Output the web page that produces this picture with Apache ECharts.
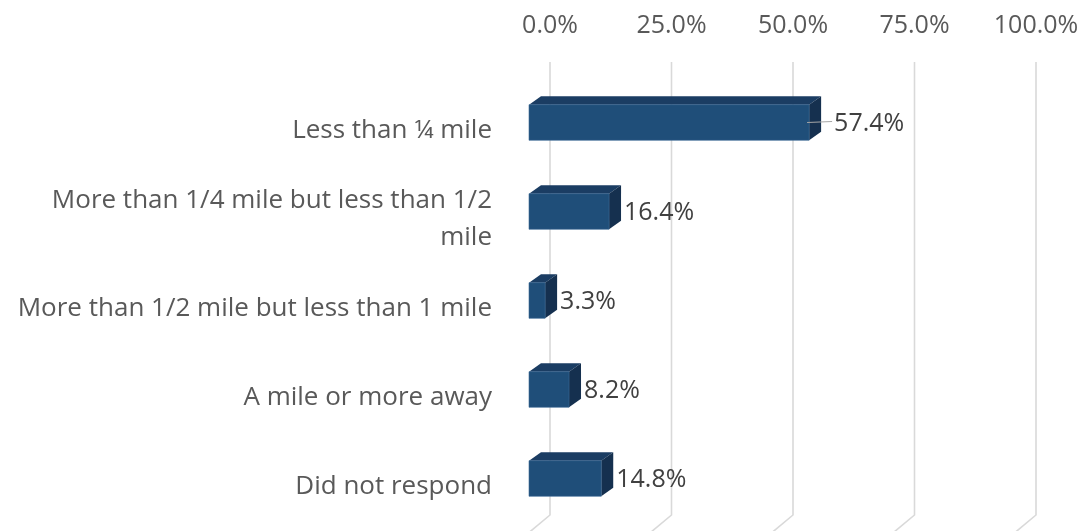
<!DOCTYPE html>
<html>
<head>
<meta charset="utf-8">
<script src="https://cdn.jsdelivr.net/npm/echarts@6/dist/echarts.min.js"></script>
<style>
  html, body { margin: 0; padding: 0; background: #ffffff; }
  #chart { width: 1086px; height: 531px; }
</style>
</head>
<body>
<div id="chart"></div>
<script>
// Distance categories and share of responses (%)
const categories = [
  'Less than ¼ mile',
  'More than 1/4 mile but less than 1/2\nmile',
  'More than 1/2 mile but less than 1 mile',
  'A mile or more away',
  'Did not respond'
];
const shares = [57.4, 16.4, 3.3, 8.2, 14.8];
const axisTicks = [0, 25, 50, 75, 100];

const FONT = '"Open Sans"';
const LABEL_SIZE = 26;
const VALUE_SIZE = 25;
const FRONT = '#1f4e79';
const TOP = '#1b3d63';
const SIDE = '#15304f';
const GRID_LINE = '#d9d9d9';
// depth offset of the pseudo-3D boxes
const DX = 12, DY = -8.5;
// the box front face sits slightly above the category centre line
const FACE_LIFT = 8;

const chart = echarts.init(document.getElementById('chart'), null, { renderer: 'canvas' });

chart.setOption({
  animation: false,
  backgroundColor: '#ffffff',
  grid: [
    // back wall: carries the percentage scale and the gridlines
    { left: 550, right: 50, top: 62, bottom: 16 },
    // front plane: where the bar faces sit
    { left: 529, right: 69, top: 86, bottom: -3 }
  ],
  xAxis: [
    {
      gridIndex: 0, type: 'value', position: 'top', min: 0, max: 100, interval: 25,
      axisLine: { show: false }, axisTick: { show: false }, splitLine: { show: false },
      axisLabel: {
        margin: 24, color: '#595959', fontFamily: FONT, fontSize: VALUE_SIZE,
        formatter: v => v.toFixed(1) + '%'
      }
    },
    {
      gridIndex: 1, type: 'value', min: 0, max: 100, show: false
    }
  ],
  yAxis: [
    { gridIndex: 0, type: 'value', min: 0, max: 1, show: false },
    {
      gridIndex: 1, type: 'category', data: categories, inverse: true,
      axisLine: { show: false }, axisTick: { show: false }, splitLine: { show: false },
      axisLabel: {
        margin: 37, color: '#595959', fontFamily: FONT, fontSize: LABEL_SIZE,
        lineHeight: 37, align: 'right'
      }
    }
  ],
  series: [
    {
      // gridlines on the back wall, bending onto the floor
      type: 'custom',
      xAxisIndex: 0, yAxisIndex: 0,
      clip: false, silent: true, z: 1,
      data: axisTicks,
      renderItem(params, api) {
        const v = api.value(0);
        const top = api.coord([v, 1]);
        const bot = api.coord([v, 0]);
        return {
          type: 'polyline',
          shape: { points: [top, bot, [bot[0] - 30, bot[1] + 25]] },
          style: { stroke: GRID_LINE, lineWidth: 1.6, fill: null }
        };
      }
    },
    {
      type: 'custom',
      xAxisIndex: 1, yAxisIndex: 1,
      clip: false, z: 3,
      data: shares.map((v, i) => [v, categories[i]]),
      encode: { x: 0, y: 1 },
      renderItem(params, api) {
        const v = api.value(0);
        const c = api.value(1);
        const p0 = api.coord([0, c]);
        const p1 = api.coord([v, c]);
        const h = api.size([0, 1])[1] * 0.4;
        const x0 = p0[0], x1 = p1[0], yc = p0[1] - FACE_LIFT;
        const yT = yc - h / 2, yB = yc + h / 2;
        const children = [
          { type: 'polygon', shape: { points: [[x0, yT], [x0 + DX, yT + DY], [x1 + DX, yT + DY], [x1, yT]] },
            style: { fill: TOP } },
          { type: 'polygon', shape: { points: [[x1, yT], [x1 + DX, yT + DY], [x1 + DX, yB + DY], [x1, yB]] },
            style: { fill: SIDE } },
          { type: 'rect', shape: { x: x0, y: yT, width: x1 - x0, height: h },
            style: { fill: FRONT, stroke: '#3a6a96', lineWidth: 0.6 } }
        ];
        // the widest bar's label sits a little further out with a leader line
        const lead = params.dataIndex === 0 ? 13 : 3;
        if (lead > 3) {
          children.push({ type: 'line', shape: { x1: x1 - 2, y1: yc, x2: x1 + DX + lead - 2, y2: yc - 1 },
            style: { stroke: '#a6a6a6', lineWidth: 1.2 } });
        }
        children.push({
          type: 'text',
          style: {
            text: v.toFixed(1) + '%', x: x1 + DX + lead, y: yc + 1,
            verticalAlign: 'middle', align: 'left',
            fill: '#404040', font: VALUE_SIZE + 'px ' + FONT
          }
        });
        return { type: 'group', children };
      }
    }
  ]
});
</script>
</body>
</html>
